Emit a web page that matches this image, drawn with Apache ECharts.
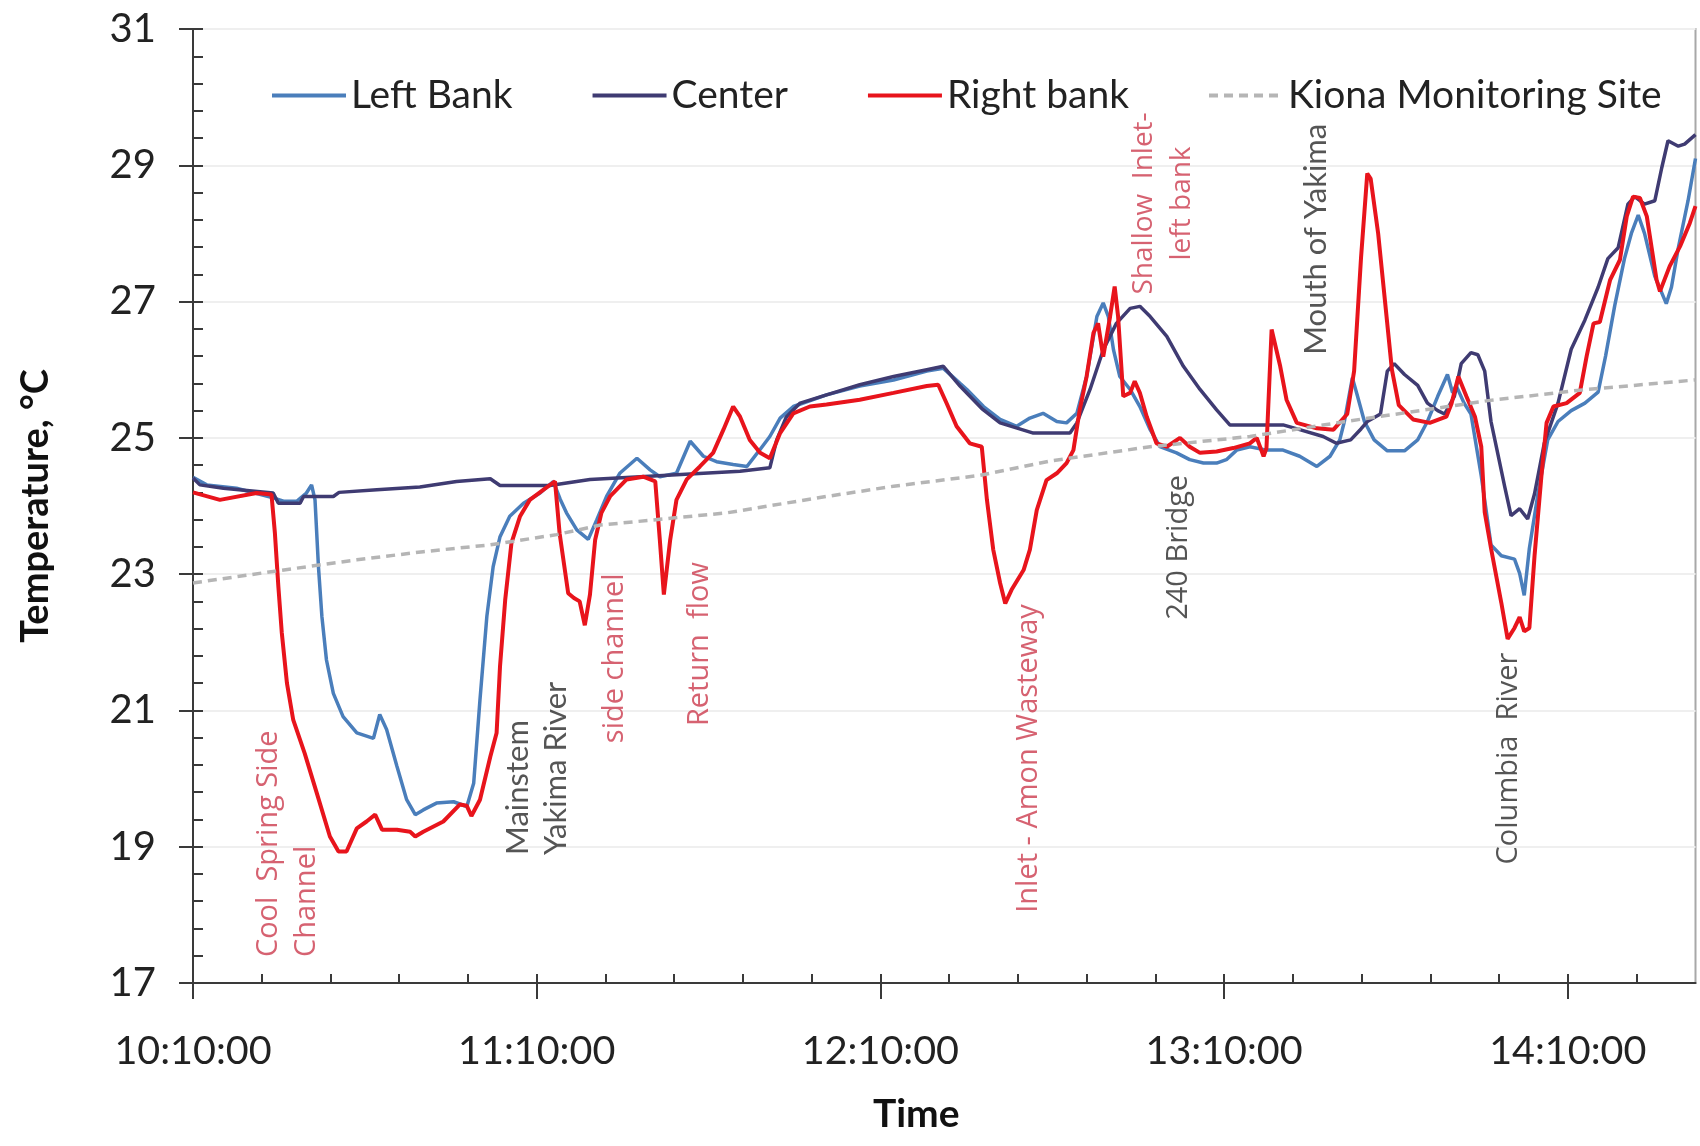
<!DOCTYPE html>
<html>
<head>
<meta charset="utf-8">
<script src="https://cdn.jsdelivr.net/npm/echarts@6/dist/echarts.min.js"></script>
<style>
  html, body { margin: 0; padding: 0; background: #fff; }
  #chart { width: 1700px; height: 1146px; }
</style>
</head>
<body>
<div id="chart"></div>
<script>
// time = minutes after 10:10:00, value = temperature in °C
const START = 10 * 60 + 10

const leftBank = [
  [0, 24.42], [2.4, 24.31], [7.6, 24.26], [14.0, 24.12], [15.8, 24.07], [18.1, 24.07], [19.8, 24.19],
  [20.7, 24.31], [21.3, 24.09], [21.9, 23.11], [22.5, 22.38], [23.3, 21.74], [24.5, 21.25], [26.2, 20.91],
  [28.6, 20.67], [31.5, 20.59], [32.6, 20.94], [33.8, 20.72], [35.6, 20.18], [37.3, 19.69], [38.8, 19.47],
  [40.2, 19.54], [42.5, 19.64], [45.5, 19.66], [47.8, 19.59], [49.0, 19.93], [50.1, 21.16], [51.3, 22.38],
  [52.4, 23.11], [53.6, 23.55], [55.3, 23.85], [57.7, 24.04], [60.6, 24.19], [62.9, 24.36], [64.1, 24.1],
  [65.2, 23.9], [67.0, 23.65], [69.0, 23.51], [70.5, 23.8], [72.2, 24.14], [74.5, 24.48], [77.5, 24.7],
  [79.8, 24.53], [81.5, 24.43], [84.4, 24.48], [86.8, 24.95], [89.1, 24.73], [91.4, 24.65], [94.3, 24.61],
  [96.7, 24.58], [99.0, 24.83], [100.7, 25.02], [102.5, 25.29], [104.8, 25.46], [110.6, 25.63], [116.4, 25.76],
  [122.3, 25.85], [128.1, 25.98], [131.0, 26.02], [133.9, 25.8], [135.1, 25.71], [138.0, 25.46], [140.9, 25.27],
  [143.8, 25.17], [146.1, 25.29], [148.4, 25.36], [150.8, 25.24], [152.5, 25.22], [154.3, 25.36], [156.0, 25.9],
  [157.8, 26.78], [158.9, 26.98], [159.8, 26.78], [160.7, 26.29], [161.8, 25.9], [163.6, 25.71], [165.3, 25.46],
  [167.1, 25.12], [168.8, 24.87], [171.7, 24.78], [174.0, 24.68], [176.4, 24.63], [178.7, 24.63], [180.4, 24.68],
  [182.2, 24.82], [184.5, 24.87], [187.4, 24.82], [190.3, 24.82], [193.2, 24.73], [196.2, 24.58], [198.5, 24.73],
  [200.2, 24.97], [201.0, 25.24], [202.4, 25.88], [203.3, 25.61], [204.5, 25.24], [206.2, 24.97], [208.5, 24.81],
  [211.5, 24.81], [213.8, 24.97], [215.5, 25.24], [217.3, 25.61], [219.0, 25.93], [219.9, 25.66], [220.5, 25.77],
  [221.9, 25.51], [223.1, 25.35], [224.9, 24.44], [226.6, 23.43], [228.4, 23.27], [230.7, 23.22], [231.6, 23.01],
  [232.4, 22.69], [233.3, 23.38], [234.8, 24.18], [236.5, 24.97], [238.3, 25.24], [240.6, 25.4], [243.0, 25.51],
  [245.3, 25.67], [246.6, 26.2], [248.2, 26.94], [249.9, 27.63], [251.1, 28.0], [252.3, 28.27], [253.4, 28.0],
  [255.2, 27.37], [257.2, 26.97], [258.1, 27.21], [259.3, 27.79], [261.0, 28.48], [262.3, 29.1]
]

const center = [
  [0, 24.41], [1.2, 24.31], [5.3, 24.26], [14.0, 24.19], [14.9, 24.04], [18.7, 24.04], [19.3, 24.14],
  [24.5, 24.14], [25.5, 24.2], [32.1, 24.24], [39.6, 24.28], [46.0, 24.36], [51.9, 24.4], [53.6, 24.3],
  [62.3, 24.3], [69.3, 24.39], [84.4, 24.46], [95.5, 24.51], [100.7, 24.56], [101.9, 24.97], [103.6, 25.31],
  [106.0, 25.51], [110.6, 25.63], [116.4, 25.78], [122.3, 25.9], [128.1, 26.0], [131.0, 26.05], [133.9, 25.76],
  [137.7, 25.43], [140.9, 25.22], [146.7, 25.07], [153.1, 25.07], [154.3, 25.22], [156.6, 25.71], [158.9, 26.29],
  [161.2, 26.68], [163.6, 26.9], [165.3, 26.93], [167.1, 26.78], [170.0, 26.49], [172.9, 26.05], [175.8, 25.71],
  [178.7, 25.41], [181.0, 25.19], [190.3, 25.19], [193.2, 25.12], [197.3, 25.02], [199.6, 24.92], [202.1, 24.97],
  [203.9, 25.13], [205.0, 25.24], [207.3, 25.35], [208.5, 25.98], [209.7, 26.09], [211.5, 25.93], [213.8, 25.77],
  [215.5, 25.51], [217.3, 25.4], [218.5, 25.35], [220.2, 25.61], [221.4, 26.09], [223.1, 26.25], [224.3, 26.22],
  [225.5, 25.98], [226.6, 25.24], [227.8, 24.76], [229.0, 24.28], [230.1, 23.86], [231.6, 23.96], [233.0, 23.81],
  [234.2, 24.18], [235.9, 24.92], [238.3, 25.51], [240.6, 26.3], [243.0, 26.73], [245.3, 27.21], [247.0, 27.63],
  [248.8, 27.79], [250.5, 28.43], [251.7, 28.54], [253.4, 28.43], [255.2, 28.48], [256.4, 28.96], [257.5, 29.36],
  [259.3, 29.28], [260.4, 29.31], [262.3, 29.45]
]

const rightBank = [
  [0, 24.2], [4.7, 24.09], [11.1, 24.19], [13.7, 24.17], [14.3, 23.6], [14.9, 22.82], [15.5, 22.14],
  [16.4, 21.4], [17.5, 20.86], [19.5, 20.37], [21.6, 19.79], [23.9, 19.15], [25.4, 18.93], [26.8, 18.93],
  [28.6, 19.27], [30.3, 19.37], [31.8, 19.47], [33.0, 19.25], [35.6, 19.25], [37.9, 19.22], [38.8, 19.15],
  [40.2, 19.22], [43.7, 19.37], [46.6, 19.62], [47.8, 19.6], [48.6, 19.45], [50.1, 19.69], [51.9, 20.32],
  [53.0, 20.67], [53.6, 21.65], [54.5, 22.62], [55.6, 23.46], [57.1, 23.85], [58.8, 24.09], [61.2, 24.24],
  [63.2, 24.36], [64.0, 23.6], [65.5, 22.72], [66.5, 22.65], [67.5, 22.6], [68.4, 22.25], [69.3, 22.7],
  [70.2, 23.5], [71.3, 23.9], [72.8, 24.14], [75.7, 24.39], [78.6, 24.43], [80.7, 24.36], [81.5, 23.5],
  [82.2, 22.7], [83.3, 23.5], [84.4, 24.09], [86.2, 24.39], [88.5, 24.58], [90.8, 24.78], [92.6, 25.12],
  [94.3, 25.46], [95.5, 25.31], [97.2, 24.97], [99.0, 24.78], [100.7, 24.7], [102.5, 25.07], [104.8, 25.36],
  [107.7, 25.46], [110.6, 25.49], [116.4, 25.56], [122.3, 25.66], [128.1, 25.76], [130.1, 25.78], [131.6, 25.5],
  [133.3, 25.17], [135.6, 24.92], [137.7, 24.87], [138.6, 24.09], [139.7, 23.36], [140.9, 22.87], [141.8, 22.57],
  [142.9, 22.77], [145.0, 23.06], [146.1, 23.36], [147.3, 23.94], [149.0, 24.38], [150.8, 24.48], [152.5, 24.63],
  [153.7, 24.82], [154.8, 25.41], [156.0, 25.9], [157.2, 26.54], [158.0, 26.68], [158.9, 26.19], [160.1, 26.78],
  [160.9, 27.22], [161.5, 26.78], [162.4, 25.61], [163.6, 25.66], [164.4, 25.83], [165.3, 25.66], [166.5, 25.31],
  [168.2, 24.92], [170.0, 24.87], [172.3, 25.0], [174.0, 24.87], [175.8, 24.78], [178.7, 24.8], [181.6, 24.85],
  [184.5, 24.92], [185.7, 25.0], [186.9, 24.73], [187.4, 24.85], [188.3, 26.59], [189.8, 26.05], [190.9, 25.56],
  [192.7, 25.22], [196.2, 25.14], [199.1, 25.12], [201.5, 25.35], [202.7, 25.98], [203.9, 27.63], [205.0, 28.88],
  [205.6, 28.8], [206.9, 28.0], [208.1, 27.0], [209.3, 26.0], [210.5, 25.48], [213.0, 25.27], [215.9, 25.22],
  [218.8, 25.31], [219.7, 25.5], [220.9, 25.9], [222.3, 25.61], [223.8, 25.31], [224.9, 24.87], [225.5, 23.91],
  [226.6, 23.38], [228.4, 22.58], [229.5, 22.05], [230.7, 22.21], [231.6, 22.37], [232.4, 22.16], [233.3, 22.21],
  [234.2, 23.27], [235.4, 24.44], [236.3, 25.22], [237.5, 25.46], [239.8, 25.51], [242.1, 25.66], [243.3, 26.2],
  [244.5, 26.68], [245.6, 26.7], [247.4, 27.32], [249.1, 27.61], [250.3, 28.25], [251.4, 28.54], [252.6, 28.52],
  [253.8, 28.25], [255.5, 27.32], [256.1, 27.15], [257.8, 27.52], [259.6, 27.81], [261.3, 28.15], [262.3, 28.4]
]

const kiona = [
  [0, 22.87], [14.0, 23.04], [28.6, 23.21], [40.2, 23.33], [51.9, 23.43], [63.5, 23.58], [71.1, 23.72],
  [93.2, 23.9], [110.6, 24.14], [122.3, 24.29], [137.4, 24.45], [149.6, 24.66], [167.1, 24.87], [184.5, 25.02],
  [202.0, 25.25], [226.4, 25.55], [242.1, 25.7], [262.3, 25.85]
]

const xMajorTicks = [0, 60, 120, 180, 240]
const xMinorTicks = [0, 12, 24, 36, 48, 60, 72, 84, 96, 108, 120, 132, 144, 156, 168, 180, 192, 204, 216, 228, 240, 252]

// text notes along the run: time (min after 10:10), temperature where the text starts
const notes = [
  { text: 'Cool  Spring Side\nChannel', t: 16.6, v: 17.38, kind: 'red' },
  { text: 'Mainstem\nYakima River', t: 60.0, v: 18.88, kind: 'dark' },
  { text: 'side channel', t: 73.7, v: 20.52, kind: 'red' },
  { text: 'Return  flow', t: 88.4, v: 20.77, kind: 'red' },
  { text: 'Inlet - Amon Wasteway', t: 145.9, v: 18.03, kind: 'red' },
  { text: 'Shallow  Inlet-\nleft bank', t: 169.3, v: 28.44, kind: 'redMid' },
  { text: '240 Bridge', t: 172.0, v: 22.33, kind: 'darkWide' },
  { text: 'Mouth of Yakima', t: 196.1, v: 26.22, kind: 'dark' },
  { text: 'Columbia  River', t: 229.7, v: 18.74, kind: 'darkWide' }
]

// look of each kind of note
const noteLook = {
  red: { fontFamily: 'Open Sans', fontSize: 29, color: '#cc3b4d', align: 'left' },
  redMid: { fontFamily: 'Open Sans', fontSize: 28, color: '#cc3b4d', align: 'center' },
  dark: { fontFamily: 'Lato', fontSize: 31, color: '#2a2a2a', align: 'left' },
  darkWide: { fontFamily: 'Open Sans', fontSize: 29, color: '#2a2a2a', align: 'left' }
}

const pad = n => (n < 10 ? '0' : '') + n
function clock(m) {
  const s = Math.round((START + m) * 60)
  return Math.floor(s / 3600) + ':' + pad(Math.floor(s % 3600 / 60)) + ':' + pad(s % 60)
}

const FONT = 'Lato'
const X_MAX = 262.3

const chart = echarts.init(document.getElementById('chart'), null, { renderer: 'canvas' })

const lineSeries = (name, data, color, width, type) => ({
  name, type: 'line', data,
  xAxisIndex: 0, yAxisIndex: 0,
  symbol: 'none',
  lineStyle: { color, width, type: type || 'solid' },
  itemStyle: { color },
  emphasis: { disabled: true }
})

chart.setOption({
  animation: false,
  backgroundColor: '#fff',
  grid: {
    left: 193, right: 4.5, top: 29, bottom: 163,
    show: true, borderColor: '#a8a8a8', borderWidth: 2
  },
  legend: {
    data: ['Left Bank', 'Center', 'Right bank', 'Kiona Monitoring Site'],
    left: 270, top: 76, padding: 0,
    itemWidth: 74, itemHeight: 20, itemGap: 78,
    // the marker dot is hidden so only the line sample shows
    itemStyle: { opacity: 0, borderWidth: 0 },
    lineStyle: { width: 4 },
    textStyle: { fontFamily: FONT, fontSize: 39, color: '#222' }
  },
  xAxis: [
    {
      type: 'value', min: 0, max: X_MAX, interval: 60,
      position: 'bottom',
      name: 'Time', nameLocation: 'middle', nameGap: 112,
      nameTextStyle: { fontFamily: FONT, fontSize: 39, fontWeight: 'bold', color: '#111', padding: [0, 56, 0, 0] },
      axisLine: { lineStyle: { color: '#3a3a3a', width: 2 } },
      axisTick: { inside: false, length: 16, customValues: xMajorTicks, lineStyle: { color: '#3a3a3a', width: 2 } },
      axisLabel: {
        customValues: xMajorTicks, margin: 48,
        fontFamily: FONT, fontSize: 39.5, color: '#222',
        formatter: v => clock(v)
      },
      splitLine: { show: false }
    },
    {
      type: 'value', min: 0, max: X_MAX, interval: 12,
      position: 'bottom',
      axisLine: { show: false },
      axisTick: { inside: true, length: 9, customValues: xMinorTicks, lineStyle: { color: '#3a3a3a', width: 2 } },
      axisLabel: { show: false },
      splitLine: { show: false }
    }
  ],
  yAxis: [
    {
      type: 'value', min: 17, max: 31, interval: 2,
      position: 'left',
      name: 'Temperature, °C', nameLocation: 'middle', nameGap: 138, nameRotate: 90,
      nameTextStyle: { fontFamily: FONT, fontSize: 38, fontWeight: 'bold', color: '#111' },
      axisLine: { show: true, lineStyle: { color: '#3a3a3a', width: 2 } },
      axisTick: { show: true, inside: false, length: 14, lineStyle: { color: '#3a3a3a', width: 2 } },
      axisLabel: { margin: 37, fontFamily: FONT, fontSize: 40, color: '#222' },
      splitLine: { show: true, lineStyle: { color: '#efefef', width: 2 } }
    },
    {
      type: 'value', min: 17, max: 31, interval: 0.4,
      position: 'left',
      axisLine: { show: false },
      axisTick: { show: true, inside: true, length: 10, lineStyle: { color: '#3a3a3a', width: 2 } },
      axisLabel: { show: false },
      splitLine: { show: false }
    }
  ],
  series: [
    lineSeries('Left Bank', leftBank, '#4a7ebb', 3.5),
    lineSeries('Center', center, '#3f3b72', 3.5),
    lineSeries('Right bank', rightBank, '#e8141c', 4),
    lineSeries('Kiona Monitoring Site', kiona, '#b5b5b5', 3.5, [9, 6]),
    {
      // rotated site notes
      type: 'scatter', xAxisIndex: 0, yAxisIndex: 0,
      symbolSize: 0, silent: true, z: 5,
      data: notes.map(n => {
        const look = noteLook[n.kind]
        return {
          value: [n.t, n.v],
          label: {
            show: true, position: 'inside', rotate: 90,
            formatter: n.text,
            align: look.align, verticalAlign: 'middle',
            fontFamily: look.fontFamily, fontSize: look.fontSize, lineHeight: 38,
            color: look.color
          }
        }
      })
    }
  ]
})
</script>
</body>
</html>
